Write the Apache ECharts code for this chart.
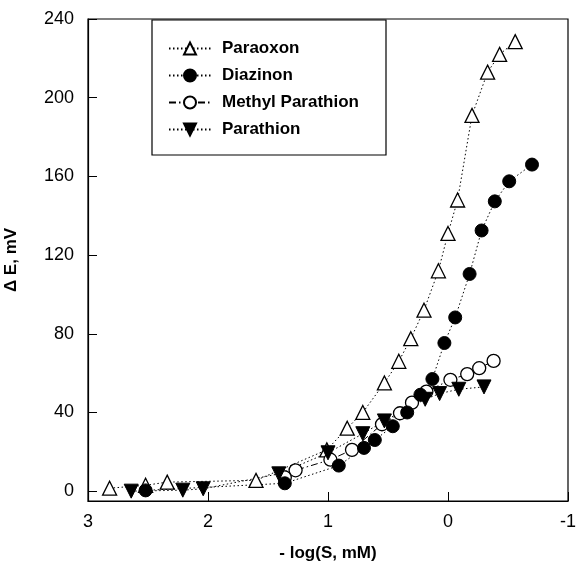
<!DOCTYPE html>
<html>
<head>
<meta charset="utf-8">
<script src="https://cdn.jsdelivr.net/npm/echarts@6/dist/echarts.min.js"></script>
<style>
  html, body { margin: 0; padding: 0; background: #fff; }
  #chart { width: 577px; height: 562px; }
</style>
</head>
<body>
<div id="chart"></div>
<script>
// values: x = -log(S, mM), y = delta E (mV)
var paraoxonX = [2.82, 2.52, 2.34, 1.60, 1.01, 0.84, 0.71, 0.53, 0.41, 0.31, 0.20, 0.08, 0.00, -0.08, -0.20, -0.33, -0.43, -0.56];
var paraoxonY = [1.5, 3, 4.6, 5.5, 21, 32, 40, 55, 66, 77.5, 92, 112, 131, 148, 191, 213, 222, 228.5];

var diazinonX = [2.52, 1.36, 0.91, 0.70, 0.61, 0.46, 0.34, 0.23, 0.13, 0.03, -0.06, -0.18, -0.28, -0.39, -0.51, -0.70];
var diazinonY = [0.4, 4, 13, 22, 26, 33, 40, 49, 57, 75.3, 88.3, 110.4, 132.5, 147.3, 157.5, 166];

var methylX = [1.36, 1.27, 0.98, 0.80, 0.55, 0.40, 0.30, 0.18, -0.02, -0.16, -0.26, -0.38];
var methylY = [7, 10.6, 16, 21, 34, 39.6, 45, 50.6, 56.6, 59.5, 62.5, 66.2];

var parathionX = [2.64, 2.21, 2.04, 1.41, 1.00, 0.71, 0.53, 0.19, 0.07, -0.09, -0.30];
var parathionY = [0, 0.5, 1.2, 8.8, 19.5, 29.2, 35.7, 46.7, 49.6, 51.8, 53];

var yTicks = [0, 40, 80, 120, 160, 200, 240];
var legendNames = ["Paraoxon", "Diazinon", "Methyl Parathion", "Parathion"];

function pairs(xs, ys) {
  return xs.map(function (x, i) { return [x, ys[i]]; });
}

var chartDom = document.getElementById("chart");
var myChart = echarts.init(chartDom);

var font = "Liberation Sans, Arial, Helvetica, sans-serif";
var dotted = { color: "#000", width: 1, type: [1.5, 2.5] };

var option = {
  animation: false,
  backgroundColor: "#fff",
  grid: {
    left: 88,
    right: 9,
    top: 19,
    bottom: 61,
    outerBoundsMode: "none",
    show: true,
    borderColor: "#000",
    borderWidth: 1.2,
  },
  legend: {
    data: legendNames,
    orient: "vertical",
    left: 168,
    top: 40,
    itemWidth: 42,
    itemHeight: 15,
    itemGap: 10,
    padding: 0,
    textStyle: {
      fontFamily: font,
      fontWeight: "bold",
      fontSize: 17,
      color: "#000",
      padding: [0, 0, 0, 6],
    },
  },
  graphic: [
    {
      type: "rect",
      shape: { x: 152, y: 20, width: 234, height: 135 },
      style: { fill: "none", stroke: "#000", lineWidth: 1.2 },
      z: 10,
    },
  ],
  xAxis: {
    type: "value",
    inverse: true,
    min: -1,
    max: 3,
    interval: 1,
    name: "- log(S, mM)",
    nameLocation: "middle",
    nameGap: 44,
    nameTextStyle: { fontFamily: font, fontWeight: "bold", fontSize: 17, color: "#000" },
    axisLine: { onZero: false, lineStyle: { color: "#000", width: 1.2 } },
    axisTick: { inside: true, length: 9, lineStyle: { color: "#000" } },
    axisLabel: { fontFamily: font, fontSize: 18, color: "#000", margin: 12 },
    splitLine: { show: false },
  },
  yAxis: {
    type: "value",
    min: -5,
    max: 240,
    name: "\u0394 E, mV",
    nameLocation: "middle",
    nameGap: 68,
    nameRotate: 90,
    nameTextStyle: { fontFamily: font, fontWeight: "bold", fontSize: 17, color: "#000" },
    axisLine: { onZero: false, lineStyle: { color: "#000", width: 1.2 } },
    axisTick: {
      inside: true,
      length: 9,
      customValues: yTicks,
      lineStyle: { color: "#000" },
    },
    axisLabel: {
      fontFamily: font,
      fontSize: 18,
      color: "#000",
      margin: 14,
      customValues: yTicks,
    },
    splitLine: { show: false },
  },
  series: [
    {
      name: "Paraoxon",
      type: "line",
      data: pairs(paraoxonX, paraoxonY),
      symbol: "triangle",
      symbolSize: 14,
      lineStyle: dotted,
      itemStyle: { color: "#fff", borderColor: "#000", borderWidth: 1.3 },
    },
    {
      name: "Methyl Parathion",
      type: "line",
      data: pairs(methylX, methylY),
      symbol: "circle",
      symbolSize: 13,
      lineStyle: { color: "#000", width: 1, type: [7, 3, 1.5, 3] },
      itemStyle: { color: "#fff", borderColor: "#000", borderWidth: 1.3 },
    },
    {
      name: "Parathion",
      type: "line",
      data: pairs(parathionX, parathionY),
      symbol: "triangle",
      symbolRotate: 180,
      symbolSize: 14,
      lineStyle: dotted,
      itemStyle: { color: "#000", borderColor: "#000", borderWidth: 1 },
    },
    {
      name: "Diazinon",
      type: "line",
      data: pairs(diazinonX, diazinonY),
      symbol: "circle",
      symbolSize: 13,
      lineStyle: dotted,
      itemStyle: { color: "#000", borderColor: "#000", borderWidth: 1 },
    },
  ],
};

myChart.setOption(option);
</script>
</body>
</html>
